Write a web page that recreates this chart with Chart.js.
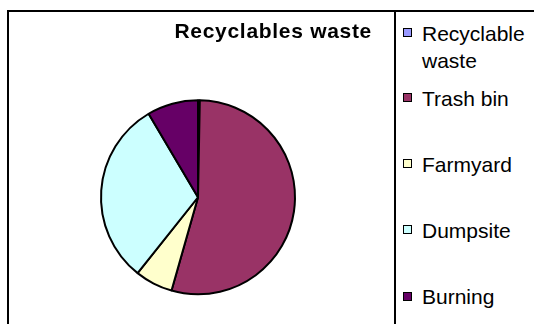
<!DOCTYPE html>
<html>
<head>
<meta charset="utf-8">
<script src="https://cdn.jsdelivr.net/npm/chart.js@4/dist/chart.umd.min.js"></script>
<style>
    html, body { margin: 0; padding: 0; background: #fff; overflow: hidden; }
    body { width: 534px; height: 324px; position: relative; font-family: "Liberation Sans", Arial, sans-serif; }
    #frame { position: absolute; left: 7px; top: 10px; width: 560px; height: 360px; border: 2px solid #000; box-sizing: border-box; }
    #divider { position: absolute; left: 394px; top: 10px; width: 2px; height: 330px; background: #000; }
    #chartBox { position: absolute; left: 9px; top: 12px; width: 385px; height: 328px; }
    #legend { position: absolute; left: 403px; top: 0; width: 131px; height: 324px; }
    .item { position: absolute; left: 0; display: flex; align-items: flex-start; }
    .swatch { width: 7px; height: 7px; border: 1.5px solid #000; margin-top: 8.5px; flex: none; }
    .text { margin-left: 10px; font-size: 21px; line-height: 27px; color: #000; white-space: nowrap; }
</style>
</head>
<body>
<div id="frame"></div>
<div id="divider"></div>
<div id="chartBox"><canvas id="pieChart"></canvas></div>
<div id="legend"></div>
<script>
const title = 'Recyclables waste';
const categories = ['Recyclable waste', 'Trash bin', 'Farmyard', 'Dumpsite', 'Burning'];
const legendLines = [['Recyclable', 'waste'], ['Trash bin'], ['Farmyard'], ['Dumpsite'], ['Burning']];
const shares = [0.3, 54.1, 6.3, 30.8, 8.5];
const colors = ['#9999FF', '#993366', '#FFFFCC', '#CCFFFF', '#660066'];

// wider letter spacing for the title, like the original
const spacingPlugin = {
    id: 'titleSpacing',
    beforeDraw(chart) { chart.ctx.letterSpacing = '0.7px'; },
    beforeDatasetsDraw(chart) { chart.ctx.letterSpacing = '0px'; }
};

const ctx = document.getElementById('pieChart').getContext('2d');
new Chart(ctx, {
    type: 'pie',
    data: {
        labels: categories,
        datasets: [{
            data: shares,
            backgroundColor: colors,
            borderColor: '#000',
            borderWidth: 2,
            radius: 97
        }]
    },
    options: {
        responsive: true,
        maintainAspectRatio: false,
        animation: false,
        layout: { padding: { left: 15, right: 22, top: 0, bottom: 0 } },
        plugins: {
            legend: { display: false },
            tooltip: { enabled: false },
            title: {
                display: true,
                text: title,
                align: 'end',
                color: '#000',
                font: { family: '"Liberation Sans", Arial, sans-serif', size: 21, weight: 'bold', lineHeight: 1.2 },
                padding: { top: 7.9, bottom: 9.4 }
            }
        }
    },
    plugins: [spacingPlugin]
});

// legend on the right, built from the same arrays
const legend = document.getElementById('legend');
const rowTops = [19.5, 84.5, 150.5, 216.5, 283];
categories.forEach((name, i) => {
    const item = document.createElement('div');
    item.className = 'item';
    item.style.top = rowTops[i] + 'px';
    const sw = document.createElement('div');
    sw.className = 'swatch';
    sw.style.background = colors[i];
    const tx = document.createElement('div');
    tx.className = 'text';
    tx.innerHTML = legendLines[i].join('<br>');
    item.appendChild(sw);
    item.appendChild(tx);
    legend.appendChild(item);
});
</script>
</body>
</html>
